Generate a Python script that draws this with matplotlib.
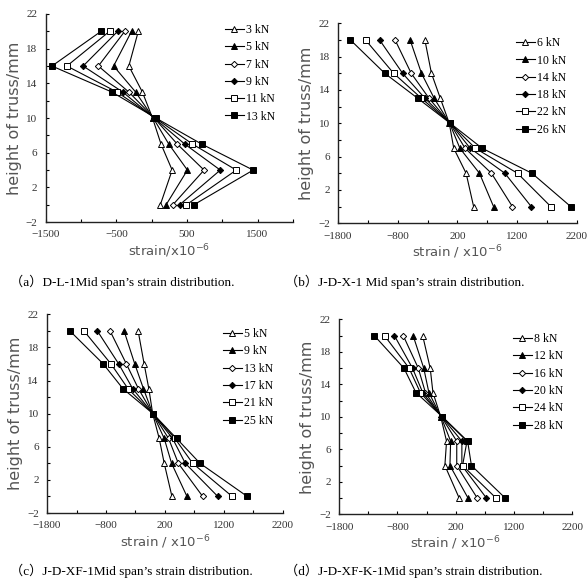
import matplotlib
matplotlib.use('Agg')
import matplotlib.pyplot as plt
import numpy as np

# heights of measuring points (mm)
heights = [20, 16, 13, 10, 7, 4, 0]

# (a) D-L-1
loads_a = ['3 kN', '5 kN', '7 kN', '9 kN', '11 kN', '13 kN']
strain_a = [
    [-190, -324, -132, 12, 132, 290, 122],
    [-286, -540, -228, 22, 242, 506, 204],
    [-382, -756, -324, 36, 362, 742, 300],
    [-482, -972, -410, 36, 468, 972, 396],
    [-598, -1202, -492, 50, 578, 1198, 492],
    [-718, -1414, -564, 60, 708, 1438, 598],
]

# (b) J-D-X-1
loads_b = ['6 kN', '10 kN', '14 kN', '18 kN', '22 kN', '26 kN']
strain_b = [
    [-346, -236, -87, 63, 138, 345, 471],
    [-593, -403, -190, 69, 241, 569, 805],
    [-845, -575, -276, 75, 328, 770, 1121],
    [-1104, -719, -345, 80, 414, 995, 1437],
    [-1340, -869, -403, 80, 500, 1207, 1765],
    [-1593, -1018, -466, 80, 615, 1449, 2099],
]

# (c) J-D-XF-1
loads_c = ['5 kN', '9 kN', '13 kN', '17 kN', '21 kN', '25 kN']
strain_c = [
    [-255, -153, -73, -8, 103, 188, 319],
    [-494, -312, -164, -6, 188, 313, 574],
    [-732, -454, -249, -5, 262, 427, 841],
    [-948, -584, -346, -5, 330, 546, 1097],
    [-1175, -715, -425, -3, 370, 671, 1341],
    [-1414, -846, -511, -3, 398, 796, 1597],
]

# (d) J-D-XF-K-1
loads_d = ['8 kN', '12 kN', '16 kN', '20 kN', '24 kN', '28 kN']
strain_d = [
    [-367, -238, -191, -57, 43, 14, 259],
    [-531, -349, -261, -51, 113, 101, 411],
    [-700, -443, -320, -45, 218, 218, 569],
    [-852, -542, -367, -40, 306, 306, 727],
    [-1022, -601, -408, -33, 394, 318, 891],
    [-1197, -689, -484, -27, 405, 470, 1049],
]

captions = [
    "（a）D-L-1Mid span’s strain distribution.",
    "（b）J-D-X-1 Mid span’s strain distribution.",
    "（c）J-D-XF-1Mid span’s strain distribution.",
    "（d）J-D-XF-K-1Mid span’s strain distribution.",
]

markers = [('^', 'white'), ('^', 'black'), ('D', 'white'),
           ('D', 'black'), ('s', 'white'), ('s', 'black')]
msizes = [4.5, 4.5, 3.2, 3.2, 4.5, 4.5]

serif = ['Liberation Serif', 'Noto Sans CJK SC']
gray = '#555555'

fig = plt.figure(figsize=(5.88, 5.83), dpi=100)

panels = [
    ([0.078, 0.619, 0.420, 0.357], loads_a, strain_a, (-1500, 2000), 1000, '', (0.70, 0.98)),
    ([0.575, 0.617, 0.406, 0.343], loads_b, strain_b, (-1800, 2200), 1000, ' ', (0.72, 0.96)),
    ([0.080, 0.120, 0.401, 0.341], loads_c, strain_c, (-1800, 2200), 1000, ' ', (0.72, 0.96)),
    ([0.577, 0.118, 0.396, 0.334], loads_d, strain_d, (-1800, 2200), 1000, ' ', (0.72, 0.96)),
]

for rect, loads, strains, xlim, step, sp, legpos in panels:
    ax = fig.add_axes(rect)
    for i, (lab, vals) in enumerate(zip(loads, strains)):
        m, fc = markers[i]
        ax.plot(vals, heights, color='black', lw=0.8, marker=m, ms=msizes[i],
                mfc=fc, mec='black', mew=0.7, label=lab)
    ax.set_xlim(*xlim)
    ax.set_ylim(-2, 22)
    ax.set_xticks(np.arange(xlim[0], xlim[1] + 1, step))
    ax.set_xticks(np.arange(xlim[0] + step / 2, xlim[1] + 1, step), minor=True)
    ax.set_yticks(np.arange(-2, 23, 4))
    ax.set_yticks(np.arange(0, 23, 4), minor=True)
    ax.tick_params(which='both', direction='in', length=2.5, width=0.8,
                   labelsize=8, labelcolor='#333333', pad=6)
    for t in ax.get_xticklabels() + ax.get_yticklabels():
        t.set_family(serif)
    for s in ['top', 'right']:
        ax.spines[s].set_visible(False)
    for s in ['left', 'bottom']:
        ax.spines[s].set_linewidth(1.0)
        ax.spines[s].set_color('#222222')
    ax.set_ylabel('height of truss/mm', fontsize=11.5, color=gray, labelpad=3)
    ax.set_xlabel('strain' + sp + '/' + sp + 'x10$^{-6}$', fontsize=9.5,
                  color=gray, labelpad=2)
    leg = ax.legend(loc='upper left', bbox_to_anchor=legpos, frameon=False,
                    prop={'family': serif, 'size': 8.5}, handlelength=1.6,
                    handletextpad=0.2, labelspacing=0.45, borderpad=0)

fig.text(0.017, 0.516, captions[0], fontsize=9.5, family=serif, va='center')
fig.text(0.484, 0.516, captions[1], fontsize=9.5, family=serif, va='center')
fig.text(0.017, 0.021, captions[2], fontsize=9.5, family=serif, va='center')
fig.text(0.484, 0.021, captions[3], fontsize=9.5, family=serif, va='center')

fig.savefig('out.png', dpi=100)
